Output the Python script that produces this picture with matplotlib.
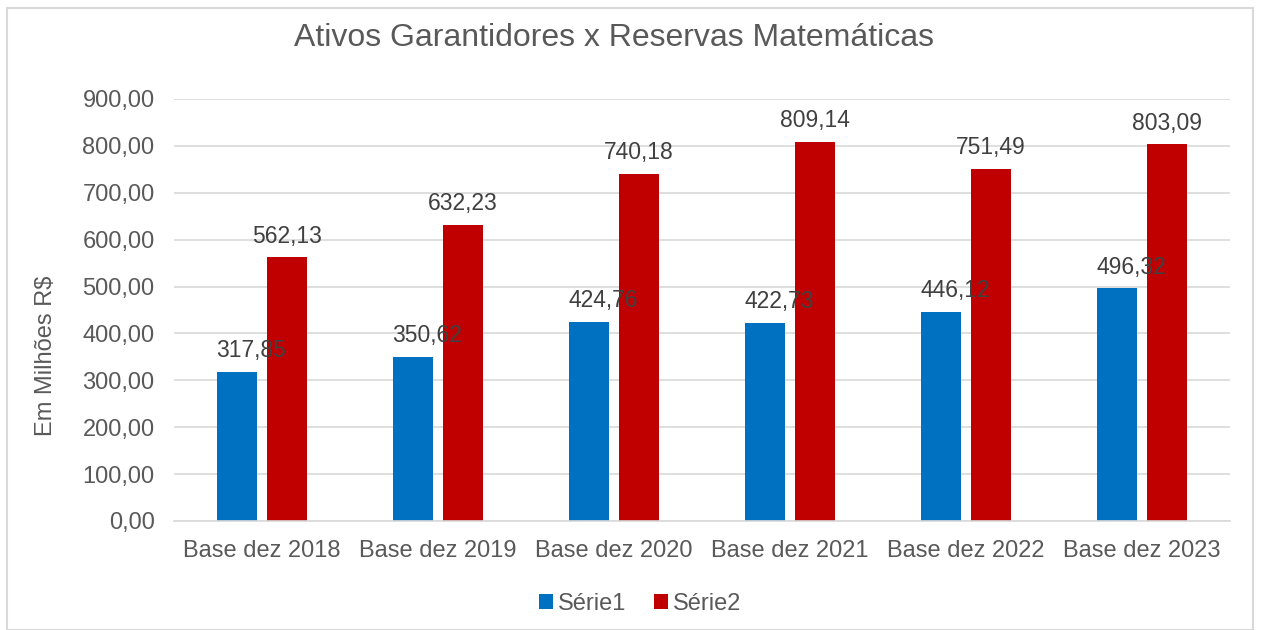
import matplotlib
matplotlib.use("Agg")
import matplotlib.pyplot as plt
import numpy as np
from matplotlib.patches import Rectangle

categories = ["Base dez 2018", "Base dez 2019", "Base dez 2020",
              "Base dez 2021", "Base dez 2022", "Base dez 2023"]
serie1 = [317.85, 350.62, 424.76, 422.73, 446.12, 496.32]
serie2 = [562.13, 632.23, 740.18, 809.14, 751.49, 803.09]

txt = "#595959"
plt.rcParams['font.family'] = ['Liberation Sans', 'DejaVu Sans']

fig = plt.figure(figsize=(12.61, 6.30), dpi=100)
fig.patches.append(Rectangle((7/1261, 0.0), 1246/1261, 622/630, transform=fig.transFigure,
                             fill=False, edgecolor="#d9d9d9", linewidth=1.5))
ax = fig.add_axes([174/1261, 1 - 521/630, 1056/1261, 422/630])

x = np.arange(len(categories))
w = 0.227
off = 0.142
ax.bar(x - off, serie1, w, color="#0070C0", label="Série1")
ax.bar(x + off, serie2, w, color="#C00000", label="Série2")

def fmt(v):
    return f"{v:.2f}".replace(".", ",")

for xi, v in zip(x, serie1):
    ax.annotate(fmt(v), (xi - off, v), xytext=(10, 7), textcoords="offset points",
                ha="center", va="bottom", fontsize=16.5, color="#404040")
for xi, v in zip(x, serie2):
    ax.annotate(fmt(v), (xi + off, v), xytext=(0, 7), textcoords="offset points",
                ha="center", va="bottom", fontsize=16.5, color="#404040")

ax.set_xlim(-0.5, len(categories) - 0.5)
ax.set_ylim(0, 900)
ax.set_yticks(np.arange(0, 901, 100))
ax.set_yticklabels([fmt(t) for t in np.arange(0, 901, 100)])
ax.set_xticks(x)
ax.set_xticklabels(categories)
ax.tick_params(axis="both", length=0, labelsize=17, labelcolor=txt)
ax.tick_params(axis="y", pad=14)
ax.tick_params(axis="x", pad=14)
ax.grid(axis="y", color="#d9d9d9", linewidth=1.2)
ax.set_axisbelow(True)
for s in ["top", "right", "left"]:
    ax.spines[s].set_visible(False)
ax.spines["bottom"].set_color("#d9d9d9")
ax.spines["bottom"].set_linewidth(1.2)

fig.text(46/1261, 1 - 356/630, "Em Milhões R$", rotation=90,
         ha="center", va="center", fontsize=17, color=txt)
fig.text(614/1261, 1 - 38/630, "Ativos Garantidores x Reservas Matemáticas",
         ha="center", va="center", fontsize=23, color=txt)

ax.legend(loc="center", ncol=2, frameon=False, fontsize=17, handlelength=0.6,
          handleheight=0.6, handletextpad=0.2, columnspacing=1.2, labelcolor=txt)
leg = ax.get_legend()
leg.set_bbox_to_anchor((640/1261, 1 - 604/630), transform=fig.transFigure)

fig.savefig("out.png", dpi=100)
